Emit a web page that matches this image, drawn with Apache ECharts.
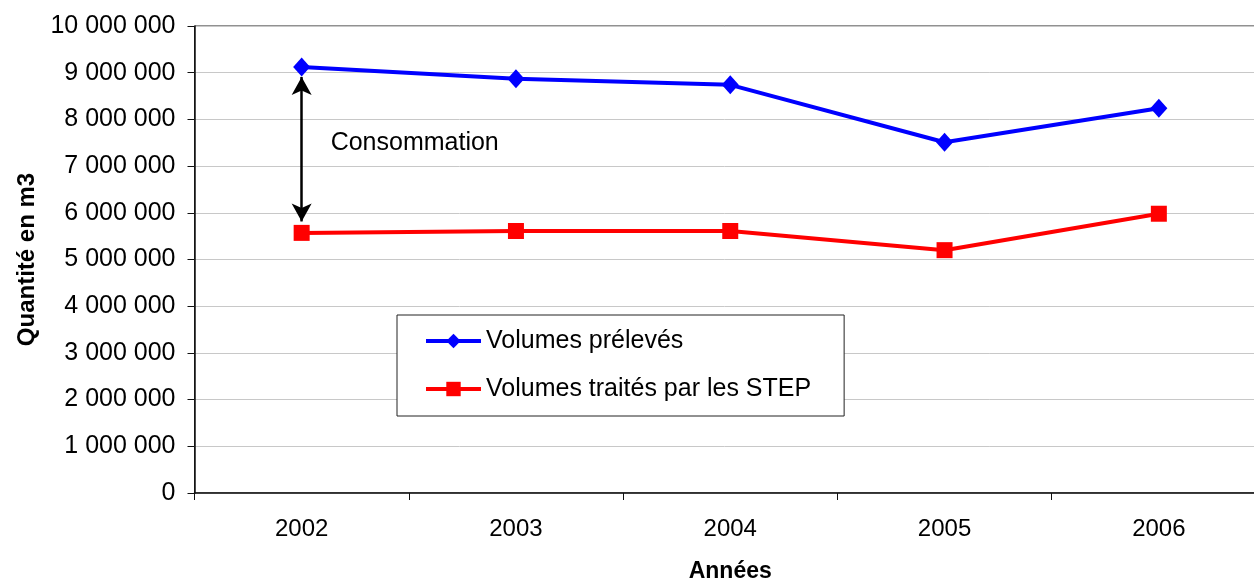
<!DOCTYPE html>
<html>
<head>
<meta charset="utf-8">
<script src="https://cdn.jsdelivr.net/npm/echarts@6/dist/echarts.min.js"></script>
<style>
  html, body { margin: 0; padding: 0; background: #fff; }
  #chart { width: 1254px; height: 580px; }
</style>
</head>
<body>
<div id="chart"></div>
<script>
var annees = ['2002', '2003', '2004', '2005', '2006'];
var volumesPreleves = [9120000, 8870000, 8740000, 7510000, 8240000];
var volumesTraites = [5570000, 5610000, 5610000, 5200000, 5980000];
// fleche "Consommation" entre les deux courbes en 2002
var flecheDebut = ['2002', 8910000];
var flecheFin = ['2002', 5815000];

var police = '"Liberation Sans", Arial, sans-serif';

function formatMillier(v) {
  return String(v).replace(/\B(?=(\d{3})+(?!\d))/g, ' ');
}

var myChart = echarts.init(document.getElementById('chart'));
var option = {
  animation: false,
  textStyle: { fontFamily: police, color: '#000' },
  grid: {
    left: 194.5, top: 26, right: -12, bottom: 87,
    containLabel: false,
    outerBoundsMode: 'none',
    show: true, borderColor: '#222', borderWidth: 1
  },
  legend: {
    orient: 'vertical',
    left: 397, top: 315,
    padding: [12, 33, 13, 27],
    itemGap: 20,
    itemWidth: 55, itemHeight: 18,
    lineStyle: { width: 4 },
    borderColor: '#222', borderWidth: 1,
    backgroundColor: '#fff',
    textStyle: { fontSize: 25, color: '#000', fontFamily: police, lineHeight: 28 },
    data: ['Volumes prélevés', 'Volumes traités par les STEP']
  },
  xAxis: {
    type: 'category',
    data: annees,
    boundaryGap: true,
    name: 'Années',
    nameLocation: 'middle',
    nameGap: 67,
    nameTextStyle: { fontSize: 23, fontWeight: 'bold', color: '#000' },
    axisLine: { lineStyle: { color: '#111', width: 1.5 } },
    axisTick: { show: true, length: 7, lineStyle: { color: '#111' } },
    axisLabel: { fontSize: 24, color: '#000', margin: 24 },
    splitLine: { show: false }
  },
  yAxis: {
    type: 'value',
    min: 0, max: 10000000, interval: 1000000,
    name: 'Quantité en m3',
    nameLocation: 'middle',
    nameRotate: 90,
    nameGap: 155,
    nameTextStyle: { fontSize: 24, fontWeight: 'bold', color: '#000' },
    axisLine: { show: true, lineStyle: { color: '#111', width: 1.5 } },
    axisTick: { show: true, length: 7, lineStyle: { color: '#111' } },
    axisLabel: { fontSize: 25, color: '#000', margin: 19, formatter: formatMillier },
    splitLine: { lineStyle: { color: '#c8c8c8', width: 1 } }
  },
  series: [
    {
      name: 'Volumes prélevés',
      type: 'line',
      data: volumesPreleves,
      symbol: 'diamond',
      symbolSize: [17, 19],
      lineStyle: { color: '#0000ff', width: 4 },
      itemStyle: { color: '#0000ff' },
      markLine: {
        silent: true,
        symbol: ['arrow', 'arrow'],
        symbolSize: [15, 18],
        lineStyle: { color: '#000', width: 2.5, type: 'solid' },
        itemStyle: { color: '#000' },
        label: { show: false },
        data: [[{ coord: flecheDebut }, { coord: flecheFin }]]
      },
      z: 3
    },
    {
      name: 'Volumes traités par les STEP',
      type: 'line',
      data: volumesTraites,
      symbol: 'rect',
      symbolSize: 16,
      lineStyle: { color: '#ff0000', width: 4 },
      itemStyle: { color: '#ff0000' },
      z: 3
    }
  ]
};
myChart.setOption(option);

// texte "Consommation" a cote de la fleche
var pos = myChart.convertToPixel({ gridIndex: 0 }, ['2002', 7400000]);
myChart.setOption({
  graphic: [{
    type: 'text',
    left: pos[0] + 29,
    top: pos[1] - 17,
    style: { text: 'Consommation', font: '25px ' + police, fill: '#000' }
  }]
});
</script>
</body>
</html>
